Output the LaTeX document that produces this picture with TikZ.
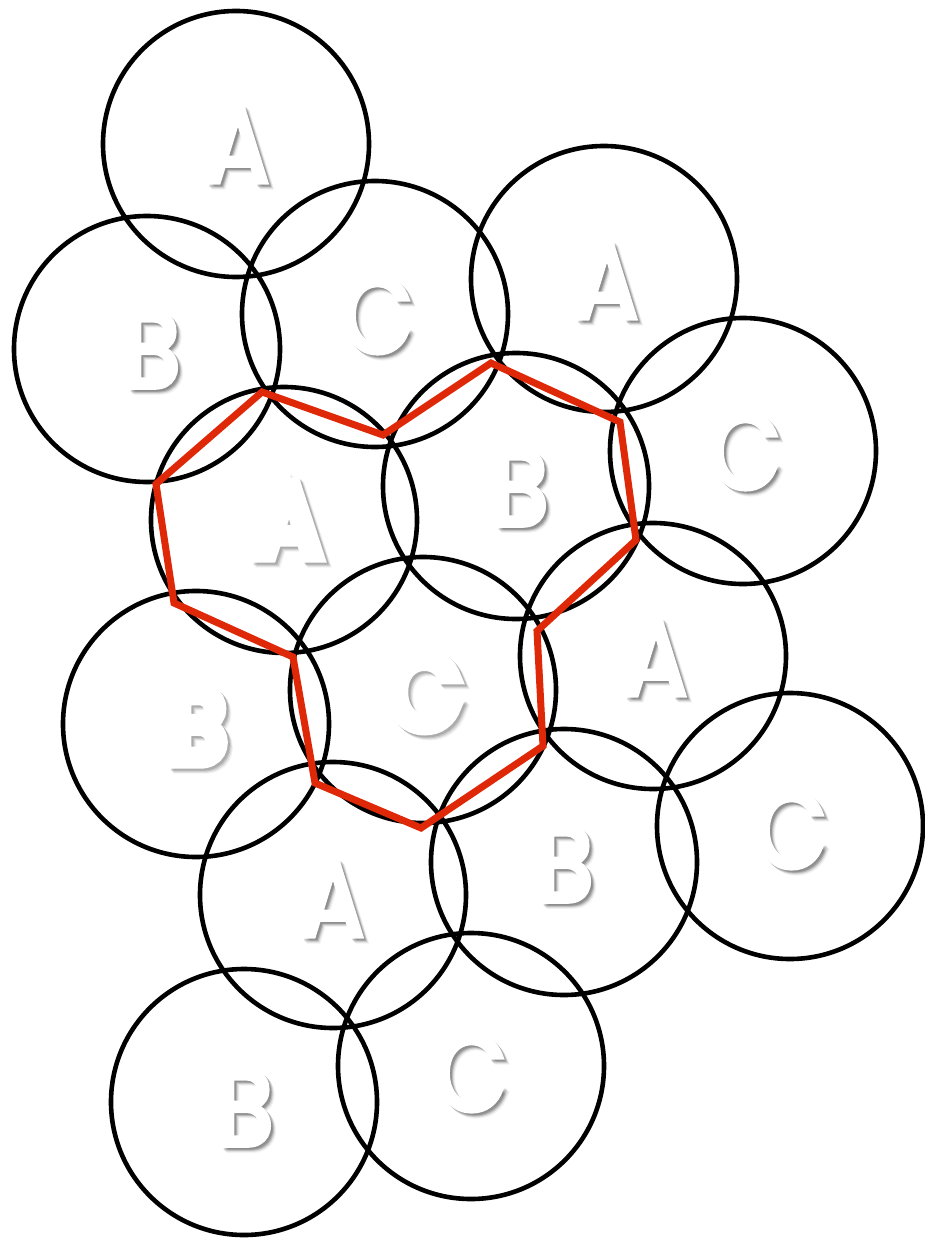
\documentclass[tikz,border=0pt]{standalone}
\usepackage{fontspec}
\setmainfont{Poppins}
\newfontfamily\lfont{Poppins}[FakeStretch=0.86,FakeBold=4]
\newfontfamily\lbfont{Poppins}[FakeStretch=0.9,FakeBold=14]
\newcommand{\shletter}[4]{%
  \node[#1,text=black,text opacity=0.05,xshift=5pt,yshift=-5pt] at (#2) {#4};
  \node[#1,text=black,text opacity=0.08,xshift=4pt,yshift=-4pt] at (#2) {#4};
  \node[#1,text=black,text opacity=0.11,xshift=3pt,yshift=-3pt] at (#2) {#4};
  \node[#1,text=black,text opacity=0.13,xshift=2pt,yshift=-2pt] at (#2) {#4};
  \node[#1] (#3) at (#2) {#4};
}
\begin{document}
\begin{tikzpicture}[x=1pt,y=-1pt,
  ball/.style={circle,draw=black,line width=4.6pt,minimum size=266pt,inner sep=0pt},
  redpath/.style={draw=redline,line width=7pt,line join=miter},
  lettr/.style={inner sep=0pt,font=\lfont\fontsize{108}{108}\selectfont,text=white},
  boldlettr/.style={inner sep=0pt,font=\lbfont\fontsize{102}{102}\selectfont,text=white}]
\definecolor{redline}{RGB}{222,40,8}
\useasboundingbox (0,0) rectangle (925,1241);
\fill[white] (0,0) rectangle (925,1241);
% circles
\node[ball] (c1) at (236,144) {};
\node[ball] (c2) at (147,349) {};
\node[ball] (c3) at (375,314) {};
\node[ball] (c4) at (604,279) {};
\node[ball] (c5) at (284,520) {};
\node[ball] (c6) at (516,486) {};
\node[ball] (c7) at (743,451) {};
\node[ball] (c8) at (196,724) {};
\node[ball] (c9) at (423,690) {};
\node[ball] (c10) at (653,656) {};
\node[ball] (c11) at (333,895) {};
\node[ball] (c12) at (564,862) {};
\node[ball] (c13) at (790,826) {};
\node[ball] (c14) at (244,1102) {};
\node[ball] (c15) at (471,1066) {};
% red polygon
\coordinate (p1) at (262,392);
\coordinate (p2) at (383,435);
\coordinate (p3) at (491,363);
\coordinate (p4) at (620,422);
\coordinate (p5) at (636,540);
\coordinate (p6) at (537,631);
\coordinate (p7) at (543,746);
\coordinate (p8) at (421,828);
\coordinate (p9) at (315,783);
\coordinate (p10) at (293,657);
\coordinate (p11) at (174,603);
\coordinate (p12) at (156,484);
\draw[redpath] (p1) -- (p2) -- (p3) -- (p4) -- (p5) -- (p6) -- (p7) -- (p8) -- (p9) -- (p10) -- (p11) -- (p12) -- cycle;
% letters
\shletter{lettr}{238,145}{l1}{A}
\shletter{lettr}{152,350}{l2}{B}
\shletter{lettr}{377,315}{l3}{C}
\shletter{lettr}{607,281}{l4}{A}
\shletter{boldlettr}{289,520}{l5}{A}
\shletter{lettr}{520,488}{l6}{B}
\shletter{lettr}{745,451}{l7}{C}
\shletter{boldlettr}{197,726}{l8}{B}
\shletter{boldlettr}{424,692}{l9}{C}
\shletter{lettr}{656,658}{l10}{A}
\shletter{lettr}{333,899}{l11}{A}
\shletter{lettr}{565,864}{l12}{B}
\shletter{lettr}{791,830}{l13}{C}
\shletter{lettr}{245,1108}{l14}{B}
\shletter{lettr}{471,1073}{l15}{C}
\end{tikzpicture}
\end{document}
